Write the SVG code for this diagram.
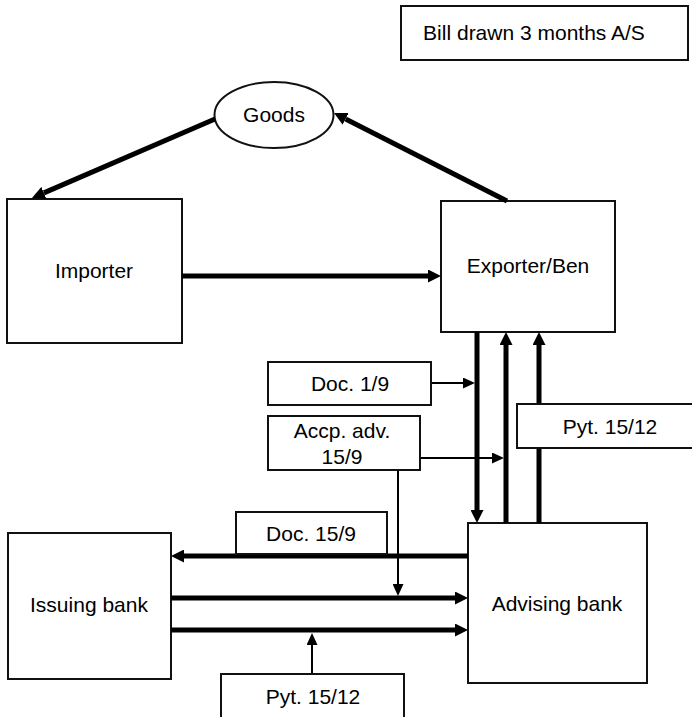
<svg xmlns="http://www.w3.org/2000/svg" width="692" height="717" viewBox="0 0 692 717">
  <style>
    .box { fill: #fff; stroke: #111; stroke-width: 2; }
    .lbl { font-family: "Liberation Sans", Arial, sans-serif; font-size: 21px; fill: #000; text-anchor: middle; }
    .thick { stroke: #000; stroke-width: 5; fill: none; marker-end: url(#bigHead); }
    .thin { stroke: #000; stroke-width: 2; fill: none; marker-end: url(#smallHead); }
    .plain { stroke: #000; stroke-width: 5; fill: none; }
  </style>
  <defs>
    <marker id="bigHead" viewBox="0 0 13 13" markerWidth="13" markerHeight="13" refX="0" refY="6.5" orient="auto" markerUnits="userSpaceOnUse">
      <path d="M0,0 L13,6.5 L0,13 z" fill="#000"/>
    </marker>
    <marker id="smallHead" viewBox="0 0 12 11" markerWidth="12" markerHeight="11" refX="0" refY="5.5" orient="auto" markerUnits="userSpaceOnUse">
      <path d="M0,0 L12,5.5 L0,11 z" fill="#000"/>
    </marker>
  </defs>

  <g id="bill-note">
    <rect class="box" x="401" y="6" width="287" height="54"/>
    <text class="lbl" x="534" y="40">Bill drawn 3 months A/S</text>
  </g>

  <g id="goods">
    <ellipse class="box" cx="274" cy="115" rx="59.5" ry="33"/>
    <text class="lbl" x="274" y="122">Goods</text>
  </g>

  <g id="importer">
    <rect class="box" x="7" y="199" width="175" height="144"/>
    <text class="lbl" x="94" y="278">Importer</text>
  </g>

  <g id="exporter">
    <rect class="box" x="441" y="201" width="174" height="131"/>
    <text class="lbl" x="528" y="273">Exporter/Ben</text>
  </g>

  <g id="issuing-bank">
    <rect class="box" x="8" y="533" width="163" height="146"/>
    <text class="lbl" x="89" y="612">Issuing bank</text>
  </g>

  <g id="advising-bank">
    <rect class="box" x="468" y="523" width="179" height="160"/>
    <text class="lbl" x="557" y="611">Advising bank</text>
  </g>

  <g id="connectors">
    <!-- goods flow -->
    <line class="thick" x1="215" y1="119" x2="43.9" y2="192.9"/>
    <line class="thick" x1="507" y1="201" x2="345.6" y2="118.9"/>
    <line class="thick" x1="182" y1="276" x2="428" y2="276"/>
    <!-- exporter / advising bank -->
    <line class="thick" x1="477" y1="332" x2="477" y2="510"/>
    <line class="thick" x1="506" y1="523" x2="506" y2="345"/>
    <line class="thick" x1="539" y1="523" x2="539" y2="345"/>
    <!-- advising / issuing bank -->
    <line class="thick" x1="468" y1="556" x2="184" y2="556"/>
    <line class="thick" x1="171" y1="598" x2="455" y2="598"/>
    <line class="thick" x1="171" y1="630" x2="455" y2="630"/>
    <!-- label pointers -->
    <line class="thin" x1="431" y1="383" x2="463" y2="383"/>
    <line class="thin" x1="420" y1="458" x2="492" y2="458"/>
    <line class="thin" x1="398" y1="470" x2="398" y2="584"/>
    <line class="thin" x1="312" y1="674" x2="312" y2="645"/>
  </g>

  <g id="doc-1-9">
    <rect class="box" x="268" y="362" width="163" height="43"/>
    <text class="lbl" x="350" y="391">Doc. 1/9</text>
  </g>

  <g id="accp-adv">
    <rect class="box" x="268" y="416" width="152" height="54"/>
    <text class="lbl" x="342" y="438">Accp. adv.</text>
    <text class="lbl" x="342" y="464">15/9</text>
  </g>

  <g id="pyt-upper">
    <rect class="box" x="517" y="404" width="185" height="44"/>
    <text class="lbl" x="610" y="434">Pyt. 15/12</text>
  </g>

  <g id="doc-15-9">
    <rect class="box" x="236" y="512" width="151" height="42"/>
    <text class="lbl" x="311" y="541">Doc. 15/9</text>
  </g>

  <g id="pyt-lower">
    <rect class="box" x="221" y="674" width="183" height="50"/>
    <text class="lbl" x="313" y="704">Pyt. 15/12</text>
  </g>
</svg>
